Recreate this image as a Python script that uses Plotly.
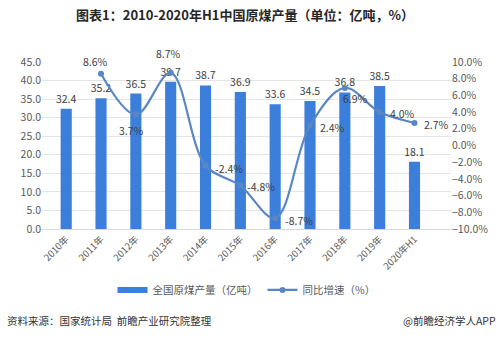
import plotly.graph_objects as go

categories = ["2010年", "2011年", "2012年", "2013年", "2014年", "2015年",
              "2016年", "2017年", "2018年", "2019年", "2020年H1"]
output = [32.4, 35.2, 36.5, 39.7, 38.7, 36.9, 33.6, 34.5, 36.8, 38.5, 18.1]
growth = [None, 8.6, 3.7, 8.7, -2.4, -4.8, -8.7, 2.4, 6.9, 4.0, 2.7]
# label offsets (pixels) of the growth labels relative to their points
label_dx = [0, -6, -4, -2, 23, 21, 24, 22, 11, 23, 22]
label_dy = [0, 12, -16, 19, -3, -1, -2, -2, -11, -1, -2]

FONT = "Microsoft YaHei, Noto Sans CJK SC, sans-serif"
BAR_C = "#3b7fda"
LINE_C = "#5a87c4"

fig = go.Figure()
fig.add_trace(go.Bar(
    x=categories, y=output, name="全国原煤产量（亿吨）",
    marker=dict(color=BAR_C, line=dict(width=0)),
    text=[f"{v:.1f}" for v in output], textposition="outside",
    constraintext="none",
    textfont=dict(size=10.5, color="#404040", family=FONT),
    cliponaxis=False, yaxis="y", showlegend=False,
))
fig.add_trace(go.Scatter(
    x=[None], y=[None], name="全国原煤产量（亿吨）", mode="lines",
    line=dict(color=BAR_C, width=6), yaxis="y",
))
fig.add_trace(go.Scatter(
    x=categories, y=growth, name="同比增速（%）",
    mode="lines+markers",
    line=dict(color=LINE_C, width=2.2, shape="spline", smoothing=1.0),
    marker=dict(color=LINE_C, size=6),
    cliponaxis=False, yaxis="y2", connectgaps=False,
))

annotations = []
for c, v, dx, dy in zip(categories, growth, label_dx, label_dy):
    if v is None:
        continue
    annotations.append(dict(
        x=c, y=v, xref="x", yref="y2", text=f"{v:.1f}%", showarrow=False,
        xshift=dx, yshift=dy, xanchor="center", yanchor="middle",
        font=dict(size=10.5, color="#404040", family=FONT)))

annotations += [
    dict(text="资料来源：国家统计局  前瞻产业研究院整理", xref="paper", yref="paper",
         x=-0.08, y=-0.545, xanchor="left", yanchor="middle", showarrow=False,
         xshift=-4, font=dict(size=10.5, color="#333333", family=FONT)),
    dict(text="@前瞻经济学人APP", xref="paper", yref="paper",
         x=1.115, y=-0.545, xanchor="right", yanchor="middle", showarrow=False,
         font=dict(size=10.5, color="#333333", family=FONT)),
]

fig.update_layout(
    width=500, height=338,
    margin=dict(l=42, r=47, t=62, b=109),
    paper_bgcolor="white", plot_bgcolor="white",
    font=dict(family=FONT, color="#595959", size=10),
    bargap=0.68,
    showlegend=True,
    legend=dict(orientation="h", x=0.5, xanchor="center", y=-0.365, yanchor="middle",
                font=dict(size=10.5, color="#595959", family=FONT),
                itemwidth=30, tracegroupgap=0, bgcolor="rgba(0,0,0,0)"),
    xaxis=dict(tickangle=-45, tickfont=dict(size=9.5, color="#595959"),
               showline=True, linecolor="#d9d9d9", linewidth=1, ticks="",
               showgrid=False),
    yaxis=dict(range=[0, 45], dtick=5, tickformat=".1f",
               showgrid=True, gridcolor="#e4e4e4", gridwidth=1,
               zeroline=False, ticks="", tickfont=dict(size=10.5, color="#595959")),
    yaxis2=dict(range=[-10, 10], dtick=2, tickformat=".1f", ticksuffix="%",
                overlaying="y", side="right", showgrid=False, zeroline=False,
                ticks="", tickfont=dict(size=10.5, color="#595959")),
    title=dict(text="<b>图表1：2010-2020年H1中国原煤产量（单位：亿吨，%）</b>",
               x=0.49, xanchor="center", y=0.955, yanchor="middle",
               font=dict(size=13, color="#262626", family=FONT)),
    annotations=annotations,
)

fig.write_html("out.html")
